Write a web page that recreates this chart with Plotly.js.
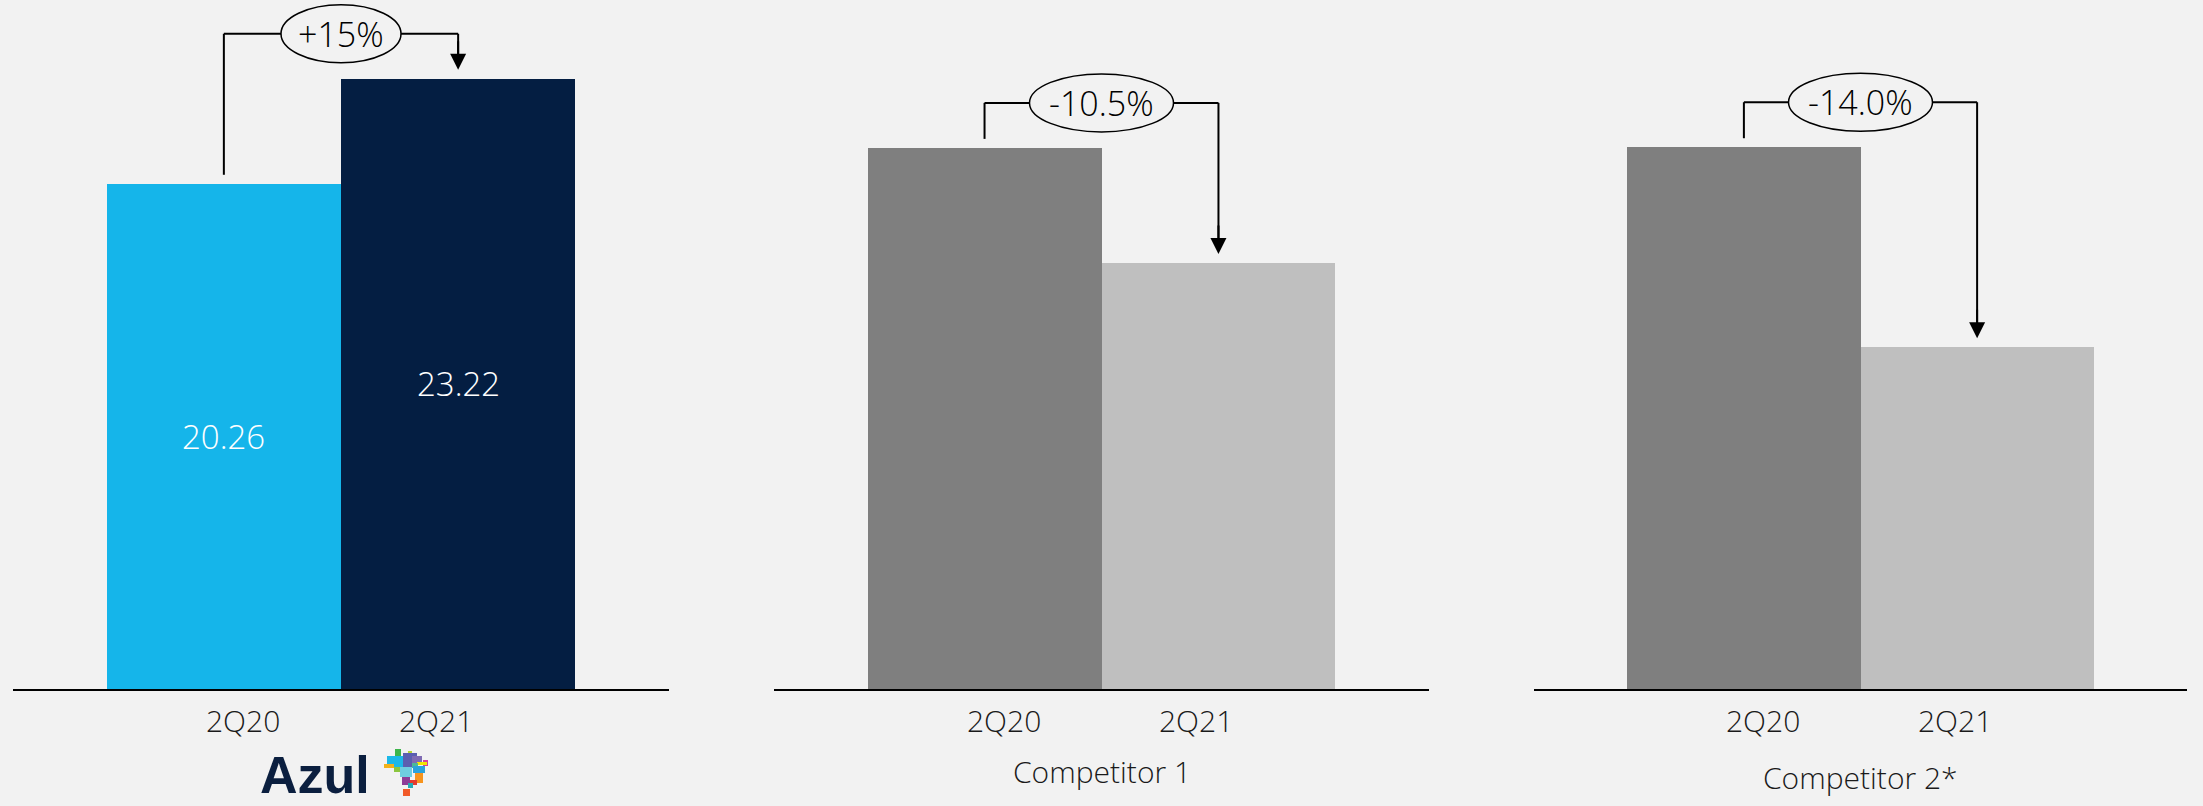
<!DOCTYPE html>
<html><head><meta charset="utf-8">
<script src="https://cdn.plot.ly/plotly-3.0.1.min.js"></script>
<style>html,body{margin:0;padding:0;background:#f2f2f2;}#chart{width:2203px;height:806px;}</style>
</head><body><div id="chart"></div>
<script>
// ---------------- data ----------------
const periods = ['2Q20', '2Q21'];
const azulValues = [20.26, 23.22];
const competitor1Values = [100, 89.5];   // indexed (2Q20 = 100), values not disclosed
const competitor2Values = [100, 86.0];   // indexed (2Q20 = 100), values not disclosed
const panelNames = ['Azul', 'Competitor 1', 'Competitor 2*'];
const changeLabels = ['+15%', '-10.5%', '-14.0%'];
const valueLabels = [['20.26', '23.22'], null, null];

// ---------------- styling ----------------
const W = 2203, H = 806;
const BG = '#f2f2f2';
const FONT = 'Open Sans, Noto Sans, sans-serif';
const panelColors = [['#15b5ea', '#041e42'], ['#7f7f7f', '#bfbfbf'], ['#7f7f7f', '#bfbfbf']];
const xDomPx = [[13, 669], [774, 1429], [1534, 2187]];
const axisBottomPx = 689;
const yDomain = [(H - axisBottomPx) / H, 1];
const plotH = axisBottomPx;
const yRanges = [[6.02, 25.44], [50.6, 113.5], [62.1, 110.3]];
const allValues = [azulValues, competitor1Values, competitor2Values];

const traces = [];
const shapes = [];
const annotations = [];
const layout = {
  width: W, height: H,
  margin: {l: 0, r: 0, t: 0, b: 0},
  paper_bgcolor: BG, plot_bgcolor: 'rgba(0,0,0,0)',
  showlegend: false, bargap: 0,
  font: {family: FONT, color: '#1a1a1a'}
};

allValues.forEach((vals, i) => {
  const sfx = i === 0 ? '' : String(i + 1);
  const xa = 'x' + sfx, ya = 'y' + sfx;
  traces.push({
    type: 'bar', x: periods, y: vals, xaxis: xa, yaxis: ya,
    marker: {color: panelColors[i], line: {width: 0}},
    width: 1, textposition: 'none',
    hovertemplate: panelNames[i] + ' %{x}: %{y}<extra></extra>'
  });
  layout['xaxis' + sfx] = {
    domain: [xDomPx[i][0] / W, xDomPx[i][1] / W], anchor: ya,
    type: 'category', range: [-0.9, 1.9], fixedrange: true,
    showticklabels: false, ticks: '', showgrid: false, zeroline: false,
    showline: true, linecolor: '#000', linewidth: 1.5
  };
  layout['yaxis' + sfx] = {
    domain: yDomain, anchor: xa, range: yRanges[i], fixedrange: true,
    visible: false, showgrid: false, zeroline: false
  };

  // bracket with change label
  const r = yRanges[i];
  const k = plotH / (r[1] - r[0]);
  const maxV = Math.max(...vals);
  const yTop = maxV + 45 / k;
  const legBottom = vals[0] + 9 / k;
  const tip = vals[1] + 9 / k;
  const ln = {color: '#000', width: 2};
  shapes.push({type: 'line', xref: xa, yref: ya, x0: 0, x1: 0, y0: legBottom, y1: yTop, line: ln});
  shapes.push({type: 'line', xref: xa, yref: ya, x0: 0, x1: 1, y0: yTop, y1: yTop, line: ln});
  shapes.push({type: 'line', xref: xa, yref: ya, x0: 1, x1: 1, y0: yTop, y1: tip + 12 / k, line: ln});
  const rx = 36 + 6 * changeLabels[i].length;
  shapes.push({type: 'circle', xref: xa, yref: ya, xsizemode: 'pixel', ysizemode: 'pixel',
    xanchor: 0.5, yanchor: yTop, x0: -rx, x1: rx, y0: -29, y1: 29,
    fillcolor: BG, line: {color: '#000', width: 1.5}});
  annotations.push({xref: xa, yref: ya, x: 1, y: tip, ax: 0, ay: -30, text: '',
    showarrow: true, arrowhead: 2, arrowsize: 1.6, arrowwidth: 2, arrowcolor: '#000'});
  annotations.push({xref: xa, yref: ya, x: 0.5, y: yTop, text: changeLabels[i], showarrow: false,
    xanchor: 'center', yanchor: 'middle', font: {size: 34, family: FONT, weight: 300, color: '#000'}});

  // value labels inside bars
  if (valueLabels[i]) {
    vals.forEach((v, j) => {
      annotations.push({xref: xa, yref: ya, x: j, y: (v + r[0]) / 2, text: valueLabels[i][j],
        showarrow: false, xanchor: 'center',
        font: {size: 33, family: FONT, weight: 300, color: '#ffffff'}});
    });
  }

  // category labels
  periods.forEach((p, j) => {
    annotations.push({xref: xa, yref: 'paper', x: p, y: (H - 720) / H, text: p, showarrow: false,
      xshift: j === 0 ? 19 : -22, xanchor: 'center', yanchor: 'middle',
      font: {size: 30, family: FONT, weight: 300, color: '#1a1a1a'}});
  });

  // panel names
  if (i > 0) {
    annotations.push({xref: xa + ' domain', yref: 'paper', x: 0.5, y: (H - (i === 1 ? 771 : 777)) / H,
      text: panelNames[i], showarrow: false, xanchor: 'center', yanchor: 'middle',
      font: {size: 30, family: FONT, weight: 300, color: '#1a1a1a'}});
  }
});

// Azul logo (word mark + small Brazil mosaic)
annotations.push({xref: 'paper', yref: 'paper', x: 314.5 / W, y: (H - 775) / H, text: '<b>Azul</b>',
  showarrow: false, xanchor: 'center', yanchor: 'middle',
  font: {size: 52, family: 'Liberation Sans, Arial, sans-serif', color: '#0b1f3f'}});
const mosaic = [
  [395, 749, 401, 756, '#3cb54a'], [408, 751, 412, 756, '#b5d334'],
  [387, 756, 403, 767, '#1cb8e8'], [403, 753, 417, 767, '#5b5fb0'],
  [412, 756, 422, 763, '#7f6bb3'], [423, 760, 428, 766, '#d6419a'],
  [417, 762, 427, 765, '#f3e600'], [384, 764, 394, 768, '#f2b21c'],
  [394, 767, 400, 772, '#8cc63f'], [400, 767, 412, 777, '#6fcde0'],
  [412, 763, 418, 768, '#4cb89a'], [413, 766, 425, 773, '#2ba3dc'],
  [402, 777, 410, 785, '#8e3c97'], [415, 773, 423, 783, '#f7941d'],
  [410, 780, 417, 785, '#e53a2e'], [408, 783, 413, 788, '#26a9b5'],
  [403, 789, 410, 796, '#f15a29']
];
mosaic.forEach(m => shapes.push({type: 'rect', xref: 'paper', yref: 'paper',
  x0: m[0] / W, x1: m[2] / W, y0: (H - m[3]) / H, y1: (H - m[1]) / H,
  fillcolor: m[4], line: {width: 0}}));

layout.shapes = shapes;
layout.annotations = annotations;
Plotly.newPlot('chart', traces, layout, {displayModeBar: false, staticPlot: false});
</script></body></html>
